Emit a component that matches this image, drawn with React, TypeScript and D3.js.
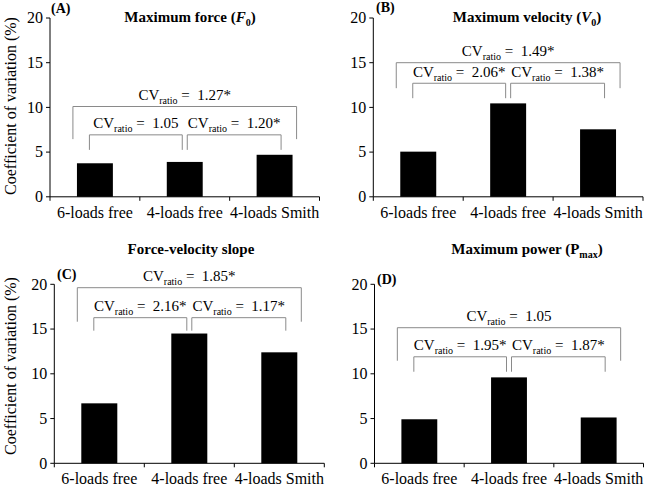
import React from "react";
import * as d3 from "d3";

const categories = ["6-loads free", "4-loads free", "4-loads Smith"];
const forceCV = [3.75, 3.9, 4.7];
const velocityCV = [5.05, 10.45, 7.55];
const slopeCV = [6.7, 14.5, 12.4];
const powerCV = [4.92, 9.6, 5.12];
const yTicks = [0, 5, 10, 15, 20];

// CV ratio labels: [6-loads vs 4-loads Smith, 6-loads vs 4-loads free, 4-loads free vs 4-loads Smith]
const forceRatios = ["1.27*", "1.05", "1.20*"];
const velocityRatios = ["1.49*", "2.06*", "1.38*"];
const slopeRatios = ["1.85*", "2.16*", "1.17*"];
const powerRatios = ["1.05", "1.95*", "1.87*"];

// bracket levels in data units: [outer top, outer leg end, inner top, inner leg end]
const forceLevels = [10.1, 6.45, 6.93, 5.25];
const velocityLevels = [15.0, 12.15, 12.7, 11.03];
const slopeLevels = [19.62, 15.82, 16.27, 14.82];
const powerLevels = [15.15, 11.46, 11.9, 10.23];

const FONT = "'Liberation Serif', 'Times New Roman', Times, serif";
const BRACKET = "#8a8a8a";

type PanelProps = {
  values: number[];
  ratios: string[];
  levels: number[];
  x0: number;
  x1: number;
  yBottom: number;
  yTop: number;
  title: React.ReactNode;
  titleX: number;
  titleY: number;
  tag: string;
  tagX: number;
  tagY: number;
  yLabel?: { x: number; y: number };
};

function RatioLabel({ x, y, value }: { x: number; y: number; value: string }) {
  return (
    <text x={x} y={y} textAnchor="middle" fontFamily={FONT} fontSize={15} fill="#000" style={{ whiteSpace: "pre" }}>
      <tspan>CV</tspan>
      <tspan fontSize={10} dy={4}>ratio</tspan>
      <tspan dy={-4}>{" =  " + value}</tspan>
    </text>
  );
}

function Panel(p: PanelProps) {
  const x = d3.scaleBand<string>().domain(categories).range([p.x0, p.x1]).paddingInner(0.6).paddingOuter(0.3);
  const y = d3.scaleLinear().domain([0, 20]).range([p.yBottom, p.yTop]);
  const step = x.step();
  const c = (i: number) => (x(categories[i]) as number) + x.bandwidth() / 2;
  const boundaries = [0, 1, 2, 3].map((i) => p.x0 + i * step);

  const bracket = (xl: number, xr: number, top: number, bottom: number, key: string) => (
    <path
      key={key}
      d={`M${xl},${y(bottom)}V${y(top)}H${xr}V${y(bottom)}`}
      fill="none"
      stroke={BRACKET}
      strokeWidth={1}
    />
  );

  const [oTop, oBot, iTop, iBot] = p.levels;
  const oL = c(0) - 22, oR = c(2) + 22;
  const lL = c(0) - 5.5, lR = c(1) - 2.5;
  const rL = c(1) + 2.5, rR = c(2) + 6.5;

  return (
    <g>
      {p.values.map((v, i) => (
        <rect key={i} x={x(categories[i])} y={y(v)} width={x.bandwidth()} height={y(0) - y(v)} fill="#000" />
      ))}
      {/* y axis */}
      <line x1={p.x0} x2={p.x0} y1={y(0)} y2={y(20)} stroke="#000" strokeWidth={1} />
      {yTicks.map((t) => (
        <g key={t}>
          <line x1={p.x0 - 4} x2={p.x0} y1={y(t)} y2={y(t)} stroke="#000" strokeWidth={1} />
          <text x={p.x0 - 7} y={y(t)} dy="0.33em" textAnchor="end" fontFamily={FONT} fontSize={16} fill="#000">
            {t}
          </text>
        </g>
      ))}
      {/* x axis */}
      <line x1={p.x0} x2={p.x1} y1={y(0)} y2={y(0)} stroke="#000" strokeWidth={1} />
      {boundaries.map((b, i) => (
        <line key={i} x1={b} x2={b} y1={y(0)} y2={y(0) + 4} stroke="#000" strokeWidth={1} />
      ))}
      {categories.map((cat, i) => (
        <text key={cat} x={c(i)} y={y(0) + 21} textAnchor="middle" fontFamily={FONT} fontSize={16} fill="#000">
          {cat}
        </text>
      ))}
      {/* brackets */}
      {bracket(oL, oR, oTop, oBot, "o")}
      {bracket(lL, lR, iTop, iBot, "l")}
      {bracket(rL, rR, iTop, iBot, "r")}
      <RatioLabel x={(oL + oR) / 2} y={y(oTop) - 6.5} value={p.ratios[0]} />
      <RatioLabel x={(lL + lR) / 2} y={y(iTop) - 6.5} value={p.ratios[1]} />
      <RatioLabel x={(rL + rR) / 2} y={y(iTop) - 6.5} value={p.ratios[2]} />
      {/* title & tag */}
      <text x={p.titleX} y={p.titleY} textAnchor="middle" fontFamily={FONT} fontSize={15} fontWeight="bold" fill="#000">
        {p.title}
      </text>
      <text x={p.tagX} y={p.tagY} fontFamily={FONT} fontSize={14} fontWeight="bold" fill="#000">
        {p.tag}
      </text>
      {p.yLabel && (
        <text
          transform={`translate(${p.yLabel.x},${p.yLabel.y}) rotate(-90)`}
          textAnchor="middle"
          fontFamily={FONT}
          fontSize={16}
          fill="#000"
        >
          Coefficient of variation (%)
        </text>
      )}
    </g>
  );
}

export default function App() {
  return (
    <svg
      width={647}
      height={489}
      viewBox="0 0 647 489"
      style={{ position: "absolute", left: 0, top: 0, background: "#fff" }}
    >
      <rect x={0} y={0} width={647} height={489} fill="#fff" />
      <Panel
        values={forceCV}
        ratios={forceRatios}
        levels={forceLevels}
        x0={50}
        x1={319.5}
        yBottom={196.8}
        yTop={18}
        title={
          <>
            <tspan>Maximum force (</tspan>
            <tspan fontStyle="italic">F</tspan>
            <tspan fontSize={10} dy={4}>0</tspan>
            <tspan dy={-4}>)</tspan>
          </>
        }
        titleX={190}
        titleY={22}
        tag="(A)"
        tagX={51}
        tagY={12.5}
        yLabel={{ x: 16, y: 106 }}
      />
      <Panel
        values={velocityCV}
        ratios={velocityRatios}
        levels={velocityLevels}
        x0={373.3}
        x1={643}
        yBottom={196.8}
        yTop={18}
        title={
          <>
            <tspan>Maximum velocity (</tspan>
            <tspan fontStyle="italic">V</tspan>
            <tspan fontSize={10} dy={4}>0</tspan>
            <tspan dy={-4}>)</tspan>
          </>
        }
        titleX={527}
        titleY={22}
        tag="(B)"
        tagX={376}
        tagY={12}
      />
      <Panel
        values={slopeCV}
        ratios={slopeRatios}
        levels={slopeLevels}
        x0={54.3}
        x1={324.3}
        yBottom={463.3}
        yTop={284.3}
        title={<tspan>Force-velocity slope</tspan>}
        titleX={191}
        titleY={253.5}
        tag="(C)"
        tagX={57}
        tagY={279}
        yLabel={{ x: 16, y: 366 }}
      />
      <Panel
        values={powerCV}
        ratios={powerRatios}
        levels={powerLevels}
        x0={374.5}
        x1={643.5}
        yBottom={463.3}
        yTop={284.3}
        title={
          <>
            <tspan>Maximum power (P</tspan>
            <tspan fontSize={10} dy={4}>max</tspan>
            <tspan dy={-4}>)</tspan>
          </>
        }
        titleX={527}
        titleY={254}
        tag="(D)"
        tagX={377}
        tagY={284}
      />
    </svg>
  );
}
